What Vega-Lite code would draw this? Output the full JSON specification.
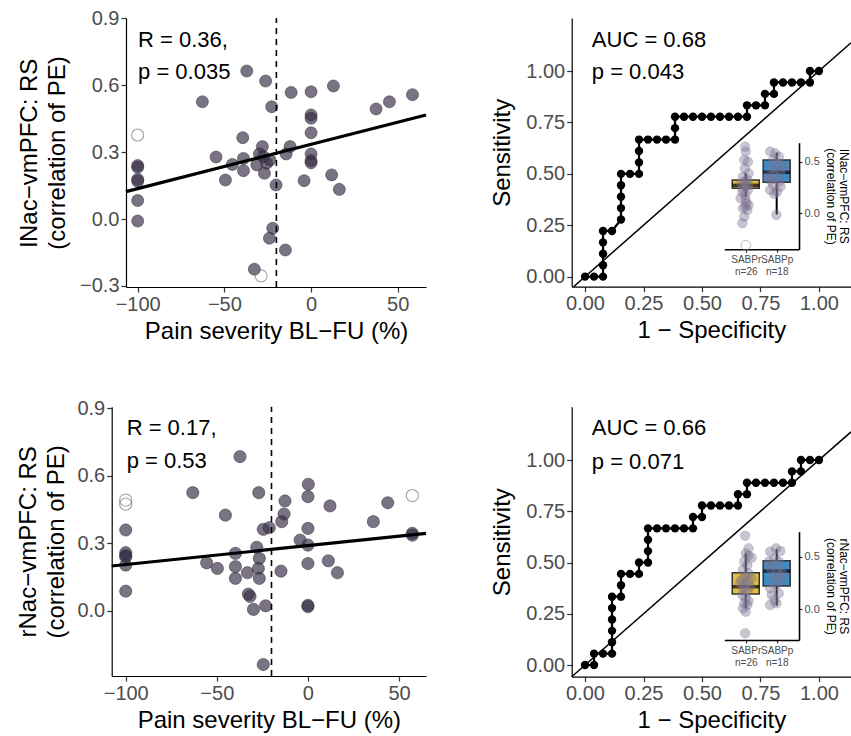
{
  "$schema": "https://vega.github.io/schema/vega-lite/v6.json",
  "width": 851,
  "height": 736,
  "autosize": "none",
  "padding": 0,
  "background": "white",
  "config": {
    "font": "Liberation Sans",
    "view": {"stroke": null},
    "axis": {
      "grid": false, "domainColor": "#000000", "domainWidth": 1.2,
      "tickColor": "#333333", "tickWidth": 1.2, "tickSize": 5,
      "labelColor": "#4d4d4d", "labelFontSize": 20, "labelPadding": 2,
      "titleFontSize": 24, "titleFontWeight": "normal", "titleColor": "#000000",
      "titlePadding": 5, "labelFlush": false, "labelOverlap": false, "titleLineHeight": 28
    }
  },
  "datasets": {
    "scA": [
      {"x": -100, "y": 0.377, "o": 1}, {"x": -100, "y": 0.240, "o": 0}, {"x": -100, "y": 0.232, "o": 0},
      {"x": -100, "y": 0.178, "o": 0}, {"x": -100, "y": 0.170, "o": 0}, {"x": -100, "y": 0.083, "o": 0},
      {"x": -100, "y": -0.009, "o": 0}, {"x": -62.7, "y": 0.526, "o": 0}, {"x": -37.1, "y": 0.664, "o": 0},
      {"x": -26.2, "y": 0.619, "o": 0}, {"x": -22.7, "y": 0.504, "o": 0}, {"x": -39.4, "y": 0.365, "o": 0},
      {"x": -54.8, "y": 0.278, "o": 0}, {"x": -45.4, "y": 0.245, "o": 0}, {"x": -49.4, "y": 0.175, "o": 0},
      {"x": -39.0, "y": 0.272, "o": 0}, {"x": -39.0, "y": 0.217, "o": 0}, {"x": -28.1, "y": 0.325, "o": 0},
      {"x": -31.3, "y": 0.243, "o": 0}, {"x": -27.5, "y": 0.280, "o": 0}, {"x": -25.6, "y": 0.250, "o": 0},
      {"x": -26.9, "y": 0.205, "o": 0}, {"x": -23.7, "y": 0.265, "o": 0}, {"x": -29.8, "y": 0.292, "o": 0},
      {"x": -20.2, "y": 0.153, "o": 0}, {"x": -22.1, "y": -0.041, "o": 0}, {"x": -24.0, "y": -0.086, "o": 0},
      {"x": -14.8, "y": -0.139, "o": 0}, {"x": -32.7, "y": -0.225, "o": 0}, {"x": -28.8, "y": -0.255, "o": 1},
      {"x": -11.5, "y": 0.568, "o": 0}, {"x": -12.1, "y": 0.325, "o": 0}, {"x": -14.4, "y": 0.292, "o": 0},
      {"x": 0, "y": 0.571, "o": 0}, {"x": 0, "y": 0.467, "o": 0}, {"x": 0, "y": 0.452, "o": 0},
      {"x": 0, "y": 0.387, "o": 0}, {"x": 0, "y": 0.292, "o": 0}, {"x": 0, "y": 0.262, "o": 0},
      {"x": 0, "y": 0.252, "o": 0}, {"x": -4.0, "y": 0.172, "o": 0}, {"x": 12.9, "y": 0.597, "o": 0},
      {"x": 11.9, "y": 0.198, "o": 0}, {"x": 16.3, "y": 0.133, "o": 0}, {"x": 37.5, "y": 0.494, "o": 0},
      {"x": 45.2, "y": 0.526, "o": 0}, {"x": 58.5, "y": 0.558, "o": 0}
    ],
    "scB": [
      {"x": -100, "y": 0.492, "o": 1}, {"x": -100, "y": 0.474, "o": 1}, {"x": -100, "y": 0.359, "o": 0},
      {"x": -100, "y": 0.258, "o": 0}, {"x": -100, "y": 0.245, "o": 0}, {"x": -100, "y": 0.240, "o": 0},
      {"x": -100, "y": 0.203, "o": 0}, {"x": -100, "y": 0.087, "o": 0}, {"x": -63.2, "y": 0.525, "o": 0},
      {"x": -37.3, "y": 0.685, "o": 0}, {"x": -27.0, "y": 0.525, "o": 0}, {"x": -45.3, "y": 0.425, "o": 0},
      {"x": -55.6, "y": 0.213, "o": 0}, {"x": -49.7, "y": 0.188, "o": 0}, {"x": -39.8, "y": 0.255, "o": 0},
      {"x": -39.8, "y": 0.196, "o": 0}, {"x": -39.8, "y": 0.144, "o": 0}, {"x": -33.2, "y": 0.169, "o": 0},
      {"x": -28.1, "y": 0.282, "o": 0}, {"x": -26.7, "y": 0.233, "o": 0}, {"x": -27.2, "y": 0.188, "o": 0},
      {"x": -26.7, "y": 0.144, "o": 0}, {"x": -32.7, "y": 0.074, "o": 0}, {"x": -31.8, "y": 0.064, "o": 0},
      {"x": -29.9, "y": 0.006, "o": 0}, {"x": -23.2, "y": 0.022, "o": 0}, {"x": -24.5, "y": -0.239, "o": 0},
      {"x": -24.5, "y": 0.362, "o": 0}, {"x": -21.2, "y": 0.369, "o": 0}, {"x": -14.4, "y": 0.396, "o": 0},
      {"x": -13.1, "y": 0.430, "o": 0}, {"x": -12.6, "y": 0.488, "o": 0}, {"x": -14.8, "y": 0.176, "o": 0},
      {"x": -4.3, "y": 0.314, "o": 0}, {"x": 0.2, "y": 0.562, "o": 0}, {"x": 0, "y": 0.507, "o": 0},
      {"x": 0, "y": 0.366, "o": 0}, {"x": 0, "y": 0.292, "o": 0}, {"x": 0, "y": 0.210, "o": 0},
      {"x": 0, "y": 0.024, "o": 0}, {"x": 0, "y": 0.018, "o": 0}, {"x": 12.1, "y": 0.466, "o": 0},
      {"x": 11.2, "y": 0.222, "o": 0}, {"x": 16.2, "y": 0.169, "o": 0}, {"x": 35.9, "y": 0.396, "o": 0},
      {"x": 43.8, "y": 0.480, "o": 0}, {"x": 57.3, "y": 0.512, "o": 1}, {"x": 57.3, "y": 0.344, "o": 0},
      {"x": 57.3, "y": 0.336, "o": 0}
    ],
    "regA": [{"x": -106.75, "y": 0.123}, {"x": 66.3, "y": 0.467}],
    "regB": [{"x": -107.7, "y": 0.199}, {"x": 64.8, "y": 0.344}],
    "vA": [{"x": -20, "y": -0.305, "y2": 0.902}],
    "vB": [{"x": -20, "y": -0.29, "y2": 0.907}],
    "txtA": [{"x": -99.8, "y": 0.803, "t": "R = 0.36,"}, {"x": -99.8, "y": 0.659, "t": "p = 0.035"}],
    "txtB": [{"x": -99.5, "y": 0.811, "t": "R = 0.17,"}, {"x": -99.5, "y": 0.666, "t": "p = 0.53"}],
    "rocA": [
      {"i": 0, "x": 0, "y": 0}, {"i": 1, "x": 0.0385, "y": 0}, {"i": 2, "x": 0.0769, "y": 0},
      {"i": 3, "x": 0.0769, "y": 0.0556}, {"i": 4, "x": 0.0769, "y": 0.1111}, {"i": 5, "x": 0.0769, "y": 0.1667},
      {"i": 6, "x": 0.0769, "y": 0.2222}, {"i": 7, "x": 0.1154, "y": 0.2222}, {"i": 8, "x": 0.1538, "y": 0.2778},
      {"i": 9, "x": 0.1538, "y": 0.3333}, {"i": 10, "x": 0.1538, "y": 0.3889}, {"i": 11, "x": 0.1538, "y": 0.4444},
      {"i": 12, "x": 0.1538, "y": 0.5}, {"i": 13, "x": 0.1923, "y": 0.5}, {"i": 14, "x": 0.2308, "y": 0.5},
      {"i": 15, "x": 0.2308, "y": 0.5556}, {"i": 16, "x": 0.2308, "y": 0.6111}, {"i": 17, "x": 0.2308, "y": 0.6667},
      {"i": 18, "x": 0.2692, "y": 0.6667}, {"i": 19, "x": 0.3077, "y": 0.6667}, {"i": 20, "x": 0.3462, "y": 0.6667},
      {"i": 21, "x": 0.3846, "y": 0.6667}, {"i": 22, "x": 0.3846, "y": 0.7222}, {"i": 23, "x": 0.3846, "y": 0.7778},
      {"i": 24, "x": 0.4231, "y": 0.7778}, {"i": 25, "x": 0.4615, "y": 0.7778}, {"i": 26, "x": 0.5, "y": 0.7778},
      {"i": 27, "x": 0.5385, "y": 0.7778}, {"i": 28, "x": 0.5769, "y": 0.7778}, {"i": 29, "x": 0.6154, "y": 0.7778},
      {"i": 30, "x": 0.6538, "y": 0.7778}, {"i": 31, "x": 0.6923, "y": 0.7778}, {"i": 32, "x": 0.6923, "y": 0.8333},
      {"i": 33, "x": 0.7308, "y": 0.8333}, {"i": 34, "x": 0.7692, "y": 0.8333}, {"i": 35, "x": 0.7692, "y": 0.8889},
      {"i": 36, "x": 0.8077, "y": 0.8889}, {"i": 37, "x": 0.8077, "y": 0.9444}, {"i": 38, "x": 0.8462, "y": 0.9444},
      {"i": 39, "x": 0.8846, "y": 0.9444}, {"i": 40, "x": 0.9231, "y": 0.9444}, {"i": 41, "x": 0.9615, "y": 0.9444},
      {"i": 42, "x": 0.9615, "y": 1}, {"i": 43, "x": 1, "y": 1}
    ],
    "rocB": [
      {"i": 0, "x": 0, "y": 0}, {"i": 1, "x": 0.0385, "y": 0}, {"i": 2, "x": 0.0385, "y": 0.0556},
      {"i": 3, "x": 0.0769, "y": 0.0556}, {"i": 4, "x": 0.1154, "y": 0.0556}, {"i": 5, "x": 0.1154, "y": 0.1111},
      {"i": 6, "x": 0.1154, "y": 0.1667}, {"i": 7, "x": 0.1154, "y": 0.2222}, {"i": 8, "x": 0.1154, "y": 0.2778},
      {"i": 9, "x": 0.1154, "y": 0.3333}, {"i": 10, "x": 0.1538, "y": 0.3333}, {"i": 11, "x": 0.1538, "y": 0.3889},
      {"i": 12, "x": 0.1538, "y": 0.4444}, {"i": 13, "x": 0.1923, "y": 0.4444}, {"i": 14, "x": 0.2308, "y": 0.4444},
      {"i": 15, "x": 0.2308, "y": 0.5}, {"i": 16, "x": 0.2692, "y": 0.5}, {"i": 17, "x": 0.2692, "y": 0.5556},
      {"i": 18, "x": 0.2692, "y": 0.6111}, {"i": 19, "x": 0.2692, "y": 0.6667}, {"i": 20, "x": 0.3077, "y": 0.6667},
      {"i": 21, "x": 0.3462, "y": 0.6667}, {"i": 22, "x": 0.3846, "y": 0.6667}, {"i": 23, "x": 0.4231, "y": 0.6667},
      {"i": 24, "x": 0.4615, "y": 0.6667}, {"i": 25, "x": 0.4615, "y": 0.7222}, {"i": 26, "x": 0.5, "y": 0.7222},
      {"i": 27, "x": 0.5, "y": 0.7778}, {"i": 28, "x": 0.5385, "y": 0.7778}, {"i": 29, "x": 0.5769, "y": 0.7778},
      {"i": 30, "x": 0.6154, "y": 0.7778}, {"i": 31, "x": 0.6538, "y": 0.7778}, {"i": 32, "x": 0.6538, "y": 0.8333},
      {"i": 33, "x": 0.6923, "y": 0.8333}, {"i": 34, "x": 0.6923, "y": 0.8889}, {"i": 35, "x": 0.7308, "y": 0.8889},
      {"i": 36, "x": 0.7692, "y": 0.8889}, {"i": 37, "x": 0.8077, "y": 0.8889}, {"i": 38, "x": 0.8462, "y": 0.8889},
      {"i": 39, "x": 0.8846, "y": 0.8889}, {"i": 40, "x": 0.8846, "y": 0.9444}, {"i": 41, "x": 0.9231, "y": 0.9444},
      {"i": 42, "x": 0.9231, "y": 1}, {"i": 43, "x": 0.9615, "y": 1}, {"i": 44, "x": 1, "y": 1}
    ],
    "diagA": [{"x": -0.049, "y": -0.049}, {"x": 1.137, "y": 1.137}],
    "diagB": [{"x": -0.057, "y": -0.057}, {"x": 1.137, "y": 1.137}],
    "txtC": [{"x": 0.029, "y": 1.151, "t": "AUC = 0.68"}, {"x": 0.029, "y": 0.997, "t": "p = 0.043"}],
    "txtD": [{"x": 0.029, "y": 1.155, "t": "AUC = 0.66"}, {"x": 0.029, "y": 0.992, "t": "p = 0.071"}],
    "whiskC": [{"x": 1, "y": 0.16, "y2": 0.387}, {"x": 2, "y": -0.012, "y2": 0.587}],
    "iqrC": [{"x": 1, "grp": "SABPr", "y": 0.242, "y2": 0.322}, {"x": 2, "grp": "SABPp", "y": 0.30, "y2": 0.516}],
    "medC": [{"x": 1, "y": 0.271}, {"x": 2, "y": 0.397}],
    "whiskD": [{"x": 1, "y": 0.007, "y2": 0.532}, {"x": 2, "y": 0.032, "y2": 0.573}],
    "iqrD": [{"x": 1, "grp": "SABPr", "y": 0.143, "y2": 0.347}, {"x": 2, "grp": "SABPp", "y": 0.22, "y2": 0.461}],
    "medD": [{"x": 1, "y": 0.213}, {"x": 2, "y": 0.363}],
    "ptC": [
      {"x": 0.98, "y": 0.645, "o": 0}, {"x": 1.0, "y": 0.597, "o": 0}, {"x": 0.95, "y": 0.516, "o": 0},
      {"x": 1.07, "y": 0.50, "o": 0}, {"x": 0.97, "y": 0.435, "o": 0}, {"x": 1.09, "y": 0.387, "o": 0},
      {"x": 0.91, "y": 0.354, "o": 0}, {"x": 1.05, "y": 0.322, "o": 0}, {"x": 0.95, "y": 0.306, "o": 0},
      {"x": 0.86, "y": 0.284, "o": 0}, {"x": 1.09, "y": 0.274, "o": 0}, {"x": 1.0, "y": 0.258, "o": 0},
      {"x": 0.91, "y": 0.242, "o": 0}, {"x": 1.07, "y": 0.226, "o": 0}, {"x": 0.89, "y": 0.209, "o": 0},
      {"x": 0.98, "y": 0.177, "o": 0}, {"x": 1.0, "y": 0.129, "o": 0}, {"x": 1.09, "y": 0.08, "o": 0},
      {"x": 0.98, "y": 0.064, "o": 0}, {"x": 0.91, "y": 0.048, "o": 0}, {"x": 1.05, "y": 0.032, "o": 0},
      {"x": 0.95, "y": -0.033, "o": 0}, {"x": 0.89, "y": -0.097, "o": 0}, {"x": 1.02, "y": 0.096, "o": 0},
      {"x": 0.83, "y": 0.145, "o": 0}, {"x": 1.0, "y": -0.31, "o": 1},
      {"x": 1.79, "y": 0.597, "o": 0}, {"x": 1.95, "y": 0.58, "o": 0}, {"x": 2.07, "y": 0.548, "o": 0},
      {"x": 1.89, "y": 0.516, "o": 0}, {"x": 2.03, "y": 0.484, "o": 0}, {"x": 1.84, "y": 0.435, "o": 0},
      {"x": 2.12, "y": 0.403, "o": 0}, {"x": 1.93, "y": 0.371, "o": 0}, {"x": 1.79, "y": 0.322, "o": 0},
      {"x": 2.07, "y": 0.306, "o": 0}, {"x": 1.89, "y": 0.274, "o": 0}, {"x": 1.79, "y": 0.226, "o": 0},
      {"x": 2.01, "y": 0.209, "o": 0}, {"x": 1.92, "y": 0.187, "o": 0}, {"x": 2.12, "y": 0.258, "o": 0},
      {"x": 1.99, "y": -0.016, "o": 0}, {"x": 1.70, "y": 0.354, "o": 0}, {"x": 2.23, "y": 0.452, "o": 0}
    ],
    "ptD": [
      {"x": 0.98, "y": 0.70, "o": 0}, {"x": 1.0, "y": 0.532, "o": 0}, {"x": 1.09, "y": 0.51, "o": 0},
      {"x": 1.19, "y": 0.49, "o": 0}, {"x": 0.95, "y": 0.455, "o": 0}, {"x": 1.05, "y": 0.42, "o": 0},
      {"x": 0.91, "y": 0.373, "o": 0}, {"x": 1.09, "y": 0.341, "o": 0}, {"x": 0.98, "y": 0.309, "o": 0},
      {"x": 0.86, "y": 0.277, "o": 0}, {"x": 1.07, "y": 0.261, "o": 0}, {"x": 0.95, "y": 0.229, "o": 0},
      {"x": 1.14, "y": 0.213, "o": 0}, {"x": 0.91, "y": 0.197, "o": 0}, {"x": 1.05, "y": 0.166, "o": 0},
      {"x": 0.89, "y": 0.134, "o": 0}, {"x": 1.0, "y": 0.102, "o": 0}, {"x": 1.09, "y": 0.077, "o": 0},
      {"x": 0.95, "y": 0.054, "o": 0}, {"x": 1.05, "y": 0.038, "o": 0}, {"x": 0.91, "y": 0.006, "o": 0},
      {"x": 1.0, "y": -0.026, "o": 0}, {"x": 0.81, "y": 0.245, "o": 0}, {"x": 1.19, "y": 0.293, "o": 0},
      {"x": 0.98, "y": -0.232, "o": 0}, {"x": 1.09, "y": 0.58, "o": 0},
      {"x": 1.98, "y": 0.58, "o": 0}, {"x": 1.79, "y": 0.548, "o": 0}, {"x": 2.12, "y": 0.554, "o": 0},
      {"x": 1.93, "y": 0.484, "o": 0}, {"x": 2.07, "y": 0.452, "o": 0}, {"x": 1.79, "y": 0.388, "o": 0},
      {"x": 2.03, "y": 0.372, "o": 0}, {"x": 1.89, "y": 0.309, "o": 0}, {"x": 2.12, "y": 0.293, "o": 0},
      {"x": 1.98, "y": 0.229, "o": 0}, {"x": 1.79, "y": 0.197, "o": 0}, {"x": 1.84, "y": 0.134, "o": 0},
      {"x": 2.07, "y": 0.150, "o": 0}, {"x": 1.93, "y": 0.086, "o": 0}, {"x": 1.79, "y": 0.038, "o": 0},
      {"x": 1.99, "y": 0.054, "o": 0}, {"x": 2.17, "y": 0.341, "o": 0}, {"x": 1.75, "y": 0.452, "o": 0}
    ]
  },
  "layer": [
    {
      "encoding": {
        "x": {"field": "x", "type": "quantitative",
          "scale": {"domain": [-106.75, 66.3], "range": [126, 426], "nice": false, "zero": false},
          "axis": {"orient": "bottom", "offset": -449, "title": "Pain severity BL−FU (%)", "values": [-100, -50, 0, 50], "format": "d"}},
        "y": {"field": "y", "type": "quantitative",
          "scale": {"domain": [-0.305, 0.902], "range": [287, 18], "nice": false, "zero": false},
          "axis": {"orient": "left", "offset": -126, "title": ["lNac−vmPFC: RS", "(correlation of PE)"], "values": [-0.3, 0, 0.3, 0.6, 0.9], "format": ".1f", "titlePadding": 10}}
      },
      "layer": [
        {"data": {"name": "scA"}, "transform": [{"filter": "datum.o == 0"}],
         "mark": {"type": "circle", "size": 145, "fill": "#3a3048", "fillOpacity": 0.68, "stroke": "#2a2430", "strokeWidth": 0.6, "strokeOpacity": 0.8}},
        {"data": {"name": "scA"}, "transform": [{"filter": "datum.o == 1"}],
         "mark": {"type": "circle", "size": 145, "filled": false, "stroke": "#7a7a7a", "strokeWidth": 1.1, "fill": null}},
        {"data": {"name": "vA"}, "mark": {"type": "rule", "strokeDash": [6, 5], "strokeWidth": 1.6, "color": "#000000"},
         "encoding": {"y2": {"field": "y2"}}},
        {"data": {"name": "regA"}, "mark": {"type": "line", "strokeWidth": 3.2, "color": "#000000"}, "encoding": {}},
        {"data": {"name": "txtA"}, "mark": {"type": "text", "align": "left", "baseline": "middle", "fontSize": 22, "color": "#000000"},
         "encoding": {"text": {"field": "t"}}}
      ]
    },
    {
      "encoding": {
        "x": {"field": "x", "type": "quantitative",
          "scale": {"domain": [-107.7, 64.8], "range": [111.7, 426], "nice": false, "zero": false},
          "axis": {"orient": "bottom", "offset": -60, "title": "Pain severity BL−FU (%)", "values": [-100, -50, 0, 50], "format": "d"}},
        "y": {"field": "y", "type": "quantitative",
          "scale": {"domain": [-0.29, 0.907], "range": [676, 406.7], "nice": false, "zero": false},
          "axis": {"orient": "left", "offset": -111.7, "title": ["rNac−vmPFC: RS", "(correlation of PE)"], "values": [0, 0.3, 0.6, 0.9], "format": ".1f", "titlePadding": 8}}
      },
      "layer": [
        {"data": {"name": "scB"}, "transform": [{"filter": "datum.o == 0"}],
         "mark": {"type": "circle", "size": 150, "fill": "#3a3048", "fillOpacity": 0.68, "stroke": "#2a2430", "strokeWidth": 0.6, "strokeOpacity": 0.8}},
        {"data": {"name": "scB"}, "transform": [{"filter": "datum.o == 1"}],
         "mark": {"type": "circle", "size": 150, "filled": false, "stroke": "#7a7a7a", "strokeWidth": 1.1, "fill": null}},
        {"data": {"name": "vB"}, "mark": {"type": "rule", "strokeDash": [6, 5], "strokeWidth": 1.6, "color": "#000000"},
         "encoding": {"y2": {"field": "y2"}}},
        {"data": {"name": "regB"}, "mark": {"type": "line", "strokeWidth": 3.2, "color": "#000000"}, "encoding": {}},
        {"data": {"name": "txtB"}, "mark": {"type": "text", "align": "left", "baseline": "middle", "fontSize": 22, "color": "#000000"},
         "encoding": {"text": {"field": "t"}}}
      ]
    },
    {
      "encoding": {
        "x": {"field": "x", "type": "quantitative",
          "scale": {"domain": [-0.057, 1.137], "range": [571.7, 851], "nice": false, "zero": false},
          "axis": {"orient": "bottom", "offset": -449.3, "title": "1 − Specificity", "values": [0, 0.25, 0.5, 0.75, 1], "format": ".2f"}},
        "y": {"field": "y", "type": "quantitative",
          "scale": {"domain": [-0.049, 1.258], "range": [286.7, 18], "nice": false, "zero": false},
          "axis": {"orient": "left", "offset": -571.7, "title": "Sensitivity", "values": [0, 0.25, 0.5, 0.75, 1], "format": ".2f", "titlePadding": 11}}
      },
      "layer": [
        {"data": {"name": "diagA"}, "mark": {"type": "line", "strokeWidth": 1.5, "color": "#000000"}, "encoding": {}},
        {"data": {"name": "rocA"}, "mark": {"type": "line", "strokeWidth": 2.2, "color": "#000000"},
         "encoding": {"order": {"field": "i", "type": "quantitative"}}},
        {"data": {"name": "rocA"}, "mark": {"type": "circle", "size": 70, "color": "#000000", "opacity": 1}},
        {"data": {"name": "txtC"}, "mark": {"type": "text", "align": "left", "baseline": "middle", "fontSize": 22, "color": "#000000"},
         "encoding": {"text": {"field": "t"}}}
      ]
    },
    {
      "encoding": {
        "x": {"field": "x", "type": "quantitative",
          "scale": {"domain": [-0.057, 1.137], "range": [571.7, 851], "nice": false, "zero": false},
          "axis": {"orient": "bottom", "offset": -59.3, "title": "1 − Specificity", "values": [0, 0.25, 0.5, 0.75, 1], "format": ".2f"}},
        "y": {"field": "y", "type": "quantitative",
          "scale": {"domain": [-0.057, 1.26], "range": [676.7, 406.7], "nice": false, "zero": false},
          "axis": {"orient": "left", "offset": -571.7, "title": "Sensitivity", "values": [0, 0.25, 0.5, 0.75, 1], "format": ".2f", "titlePadding": 11}}
      },
      "layer": [
        {"data": {"name": "diagB"}, "mark": {"type": "line", "strokeWidth": 1.5, "color": "#000000"}, "encoding": {}},
        {"data": {"name": "rocB"}, "mark": {"type": "line", "strokeWidth": 2.2, "color": "#000000"},
         "encoding": {"order": {"field": "i", "type": "quantitative"}}},
        {"data": {"name": "rocB"}, "mark": {"type": "circle", "size": 70, "color": "#000000", "opacity": 1}},
        {"data": {"name": "txtD"}, "mark": {"type": "text", "align": "left", "baseline": "middle", "fontSize": 22, "color": "#000000"},
         "encoding": {"text": {"field": "t"}}}
      ]
    },
    {
      "encoding": {
        "x": {"field": "x", "type": "quantitative",
          "scale": {"domain": [0.468, 2.56], "range": [724.3, 799], "nice": false, "zero": false},
          "axis": {"orient": "bottom", "offset": -486.7, "title": null, "values": [1, 2], "labelFontSize": 10, "tickSize": 3, "domainWidth": 1.6, "labelLineHeight": 12, "labelPadding": 2,
            "labelExpr": "datum.value == 1 ? ['SABPr', 'n=26'] : ['SABPp', 'n=18']"}},
        "y": {"field": "y", "type": "quantitative",
          "scale": {"domain": [-0.349, 0.684], "range": [249.3, 142.7], "nice": false, "zero": false},
          "axis": {"orient": "right", "offset": -52, "title": ["lNac−vmPFC: RS", "(correlation of PE)"], "values": [0, 0.5], "format": ".1f",
            "labelFontSize": 11, "tickSize": 3, "domainWidth": 1.6, "titleFontSize": 12, "titleLineHeight": 13, "titlePadding": 4}}
      },
      "layer": [
        {"data": {"name": "whiskC"}, "mark": {"type": "rule", "strokeWidth": 2, "color": "#000000"},
         "encoding": {"y2": {"field": "y2"}}},
        {"data": {"name": "iqrC"}, "mark": {"type": "bar", "width": 27, "stroke": "#333333", "strokeWidth": 1.5},
         "encoding": {"y2": {"field": "y2"},
           "color": {"field": "grp", "type": "nominal", "scale": {"domain": ["SABPr", "SABPp"], "range": ["#E3BF3A", "#3C8CC3"]}, "legend": null}}},
        {"data": {"name": "medC"}, "mark": {"type": "tick", "orient": "horizontal", "size": 27, "thickness": 3.5, "color": "#000000"}},
        {"data": {"name": "ptC"}, "transform": [{"filter": "datum.o == 0"}],
         "mark": {"type": "circle", "size": 95, "fill": "#7d7391", "fillOpacity": 0.42, "stroke": "#7d7391", "strokeOpacity": 0.35, "strokeWidth": 0.6}},
        {"data": {"name": "ptC"}, "transform": [{"filter": "datum.o == 1"}],
         "mark": {"type": "circle", "size": 95, "filled": false, "fill": null, "stroke": "#9a9a9a", "strokeWidth": 1}}
      ]
    },
    {
      "encoding": {
        "x": {"field": "x", "type": "quantitative",
          "scale": {"domain": [0.468, 2.56], "range": [724.3, 799], "nice": false, "zero": false},
          "axis": {"orient": "bottom", "offset": -96, "title": null, "values": [1, 2], "labelFontSize": 10, "tickSize": 3, "domainWidth": 1.6, "labelLineHeight": 12, "labelPadding": 2,
            "labelExpr": "datum.value == 1 ? ['SABPr', 'n=26'] : ['SABPp', 'n=18']"}},
        "y": {"field": "y", "type": "quantitative",
          "scale": {"domain": [-0.296, 0.739], "range": [640, 531.7], "nice": false, "zero": false},
          "axis": {"orient": "right", "offset": -52, "title": ["rNac−vmPFC: RS", "(correlation of PE)"], "values": [0, 0.5], "format": ".1f",
            "labelFontSize": 11, "tickSize": 3, "domainWidth": 1.6, "titleFontSize": 12, "titleLineHeight": 13, "titlePadding": 4}}
      },
      "layer": [
        {"data": {"name": "whiskD"}, "mark": {"type": "rule", "strokeWidth": 2, "color": "#000000"},
         "encoding": {"y2": {"field": "y2"}}},
        {"data": {"name": "iqrD"}, "mark": {"type": "bar", "width": 27, "stroke": "#333333", "strokeWidth": 1.5},
         "encoding": {"y2": {"field": "y2"},
           "color": {"field": "grp", "type": "nominal", "scale": {"domain": ["SABPr", "SABPp"], "range": ["#E3BF3A", "#3C8CC3"]}, "legend": null}}},
        {"data": {"name": "medD"}, "mark": {"type": "tick", "orient": "horizontal", "size": 27, "thickness": 3.5, "color": "#000000"}},
        {"data": {"name": "ptD"}, "transform": [{"filter": "datum.o == 0"}],
         "mark": {"type": "circle", "size": 95, "fill": "#7d7391", "fillOpacity": 0.42, "stroke": "#7d7391", "strokeOpacity": 0.35, "strokeWidth": 0.6}}
      ]
    }
  ],
  "resolve": {
    "scale": {"x": "independent", "y": "independent"},
    "axis": {"x": "independent", "y": "independent"}
  }
}
